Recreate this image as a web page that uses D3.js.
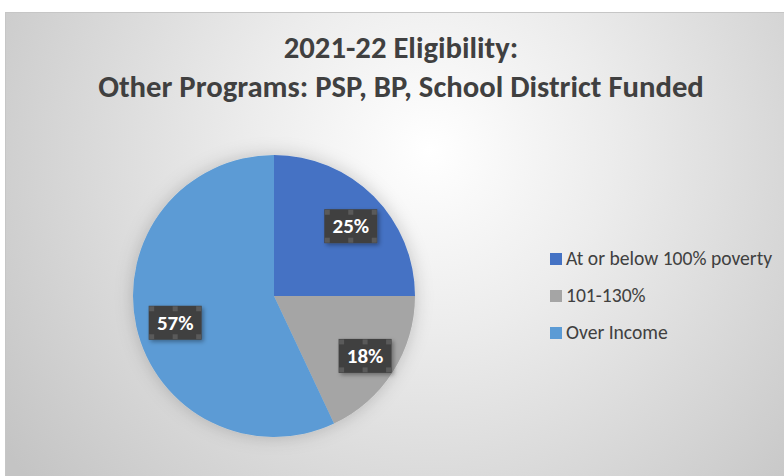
<!DOCTYPE html>
<html>
<head>
<meta charset="utf-8">
<script src="https://cdn.jsdelivr.net/npm/d3@7"></script>
<style>
  body { margin: 0; background: #ffffff; }
  svg { display: block; }
</style>
</head>
<body>
<script>
var categories = ['At or below 100% poverty', '101-130%', 'Over Income'];
var values = [25, 18, 57];
var labels = ['25%', '18%', '57%'];
var colors = ['#4472C4', '#A5A5A5', '#5B9BD5'];
var titleLines = ['2021-22 Eligibility:', 'Other Programs: PSP, BP, School District Funded'];

var screen = { width: 784, height: 476 };
var fontFamily = 'Carlito, Lato, "Open Sans", sans-serif';

var svg = d3.select('body')
            .append('svg')
            .attr('width', screen.width)
            .attr('height', screen.height);

var defs = svg.append('defs');

var grad = defs.append('radialGradient')
               .attr('id', 'bg')
               .attr('gradientUnits', 'userSpaceOnUse')
               .attr('cx', 430).attr('cy', 150).attr('r', 520);
grad.append('stop').attr('offset', '0%').attr('stop-color', '#ffffff');
grad.append('stop').attr('offset', '35%').attr('stop-color', '#ececec');
grad.append('stop').attr('offset', '100%').attr('stop-color', '#c4c4c4');

var glow = defs.append('filter').attr('id', 'glow')
               .attr('x', '-30%').attr('y', '-30%').attr('width', '160%').attr('height', '160%');
glow.append('feGaussianBlur').attr('in', 'SourceAlpha').attr('stdDeviation', 9).attr('result', 'b');
glow.append('feFlood').attr('flood-color', '#000').attr('flood-opacity', 0.2);
glow.append('feComposite').attr('in2', 'b').attr('operator', 'in').attr('result', 's');
var gm = glow.append('feMerge');
gm.append('feMergeNode').attr('in', 's');
gm.append('feMergeNode').attr('in', 'SourceGraphic');

var drop = defs.append('filter').attr('id', 'drop')
               .attr('x', '-30%').attr('y', '-30%').attr('width', '160%').attr('height', '160%');
drop.append('feDropShadow').attr('dx', 2).attr('dy', 2).attr('stdDeviation', 2)
    .attr('flood-color', '#000').attr('flood-opacity', 0.35);

// chart area
svg.append('rect')
   .attr('x', 5.5).attr('y', 12.5)
   .attr('width', 820).attr('height', 500)
   .attr('fill', 'url(#bg)')
   .attr('stroke', '#c6c6c6')
   .attr('stroke-width', 1);

// title
svg.append('g')
   .selectAll('text')
   .data(titleLines)
   .enter()
   .append('text')
   .attr('x', 401)
   .attr('y', function(d, i){ return 58 + i * 38.5; })
   .attr('text-anchor', 'middle')
   .attr('font-family', fontFamily)
   .attr('font-weight', 'bold')
   .attr('font-size', 30.7)
   .attr('fill', '#404040')
   .text(function(d){ return d; });

// pie
var cx = 274, cy = 296, radius = 141;
var pie = d3.pie().sort(null).value(function(d){ return d; });
var arcs = pie(values);
var arc = d3.arc().innerRadius(0).outerRadius(radius);
var labelArc = d3.arc().innerRadius(radius * 0.74).outerRadius(radius * 0.74);

var plot = svg.append('g')
              .attr('transform', 'translate(' + cx + ',' + cy + ')');

plot.append('g')
    .attr('filter', 'url(#glow)')
    .selectAll('path')
    .data(arcs)
    .enter()
    .append('path')
    .attr('d', arc)
    .attr('fill', function(d, i){ return colors[i]; });

var boxW = 53, boxH = 34;
var labelG = plot.selectAll('g.lbl')
                 .data(arcs)
                 .enter()
                 .append('g')
                 .classed('lbl', true)
                 .attr('transform', function(d){
                   var c = labelArc.centroid(d);
                   return 'translate(' + (c[0] + 3) + ',' + (c[1] + 4) + ')';
                 });

labelG.append('rect')
      .attr('x', -boxW / 2).attr('y', -boxH / 2)
      .attr('width', boxW).attr('height', boxH)
      .attr('fill', '#404040')
      .attr('filter', 'url(#drop)');

// small selection handles on the label boxes
var handles = [[-1, -1], [0, -1], [1, -1], [-1, 1], [0, 1], [1, 1]];
labelG.selectAll('rect.h')
      .data(handles)
      .enter()
      .append('rect')
      .classed('h', true)
      .attr('x', function(h){ return h[0] * (boxW / 2 - 3) - 2.5; })
      .attr('y', function(h){ return h[1] * (boxH / 2 - 3) - 2.5; })
      .attr('width', 5).attr('height', 5)
      .attr('fill', '#5a5a5a');

labelG.append('text')
      .attr('text-anchor', 'middle')
      .attr('dy', '0.34em')
      .attr('font-family', fontFamily)
      .attr('font-weight', 'bold')
      .attr('font-size', 21)
      .attr('fill', '#ffffff')
      .text(function(d, i){ return labels[i]; });

// legend
var legend = svg.append('g')
                .attr('transform', 'translate(550,259)');

var rows = legend.selectAll('g')
                 .data(categories)
                 .enter()
                 .append('g')
                 .attr('transform', function(d, i){ return 'translate(0,' + (i * 37) + ')'; });

rows.append('rect')
    .attr('x', 0).attr('y', -6)
    .attr('width', 12).attr('height', 12)
    .attr('fill', function(d, i){ return colors[i]; });

rows.append('text')
    .attr('x', 16)
    .attr('dy', '0.33em')
    .attr('font-family', fontFamily)
    .attr('font-size', 19.6)
    .attr('fill', '#404040')
    .text(function(d){ return d; });
</script>
</body>
</html>
